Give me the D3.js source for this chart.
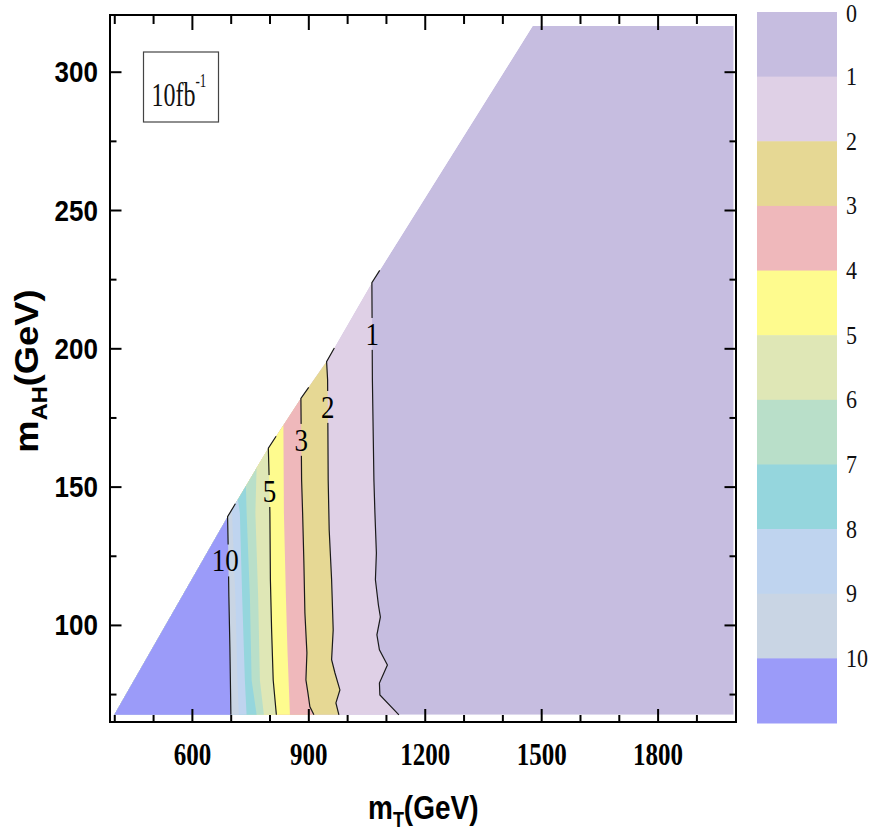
<!DOCTYPE html>
<html>
<head>
<meta charset="utf-8">
<script src="https://cdn.jsdelivr.net/npm/d3@7"></script>
<style>
  html, body { margin: 0; padding: 0; background: #fff; }
  svg { display: block; }
</style>
</head>
<body>
<svg id="chart" width="875" height="832"></svg>
<script>
// ---- contour levels and band colours (band i spans level i .. i+1, last is >10) ----
const levels = [0, 1, 2, 3, 4, 5, 6, 7, 8, 9, 10];
const bandColors = ["#c6bde0", "#dfd0e6", "#e6d894", "#efb8bb", "#fefb8e",
                    "#dfe7b6", "#b9dfc9", "#95d6dd", "#bfd4ef", "#c9d5e4", "#9b9bf9"];
const labelledLevels = [1, 2, 3, 5, 10];
const labelAtAH = [205.2, 178.8, 166.9, 148.4, 123.3];   // m_AH where each contour label sits

// ---- edge of the scanned parameter region (m_T, m_AH) ----
const edgeT  = [400, 692, 797, 881, 947, 1064, 1478];
const edgeAH = [67.5, 139.1, 163.9, 181.9, 195.2, 223.7, 316.5];
const mTMax = 1996, mAHMin = 67.5, mAHMax = 316.5;

// ---- contour lines, bottom to top: m_T values at the listed m_AH values ----
const c1T  = [1133.4, 1084.4, 1083.2, 1103.8, 1083.2, 1076.7, 1085.7, 1080.6, 1072.9, 1075.4, 1071.6, 1069.0, 1065.1, 1063.8, 1084.0];
const c1AH = [67.5, 74.7, 79.0, 85.5, 91.0, 96.4, 102.9, 107.2, 116.3, 126.0, 140.5, 152.4, 188.6, 223.7, 228.2];
const c2T  = [978.8, 971.1, 981.4, 968.5, 960.0, 964.1, 960.0, 953.8, 951.2, 949.7, 947.1, 967.0];
const c2AH = [67.5, 71.8, 76.5, 82.7, 87.4, 98.2, 116.3, 134.3, 152.4, 188.6, 195.2, 200.1];
const c3T  = [914.4, 904.1, 899.0, 893.8, 896.4, 891.2, 888.6, 885.3, 882.7, 880.9, 901.0];
const c3AH = [67.5, 70.4, 75.4, 80.1, 89.9, 104.3, 122.4, 140.5, 152.4, 181.9, 185.9];
const c4T  = [852.6, 846.2, 842.3, 837.1, 835.8];
const c4AH = [67.5, 91.0, 110.1, 140.5, 171.9];
const c5T  = [817.7, 809.5, 805.4, 802.3, 801.0, 799.2, 797.0, 817.0];
const c5AH = [67.5, 80.1, 98.2, 116.3, 140.5, 152.4, 163.9, 168.2];
const c6T  = [785.5, 775.2, 770.8, 763.6, 766.7];
const c6AH = [67.5, 80.1, 110.1, 140.5, 156.6];
const c7T  = [766.8, 753.9, 749.5, 741.0, 739.2];
const c7AH = [67.5, 80.1, 110.1, 140.5, 150.2];
const c8T  = [740.9, 736.5, 729.6, 723.6, 718.5];
const c8AH = [67.5, 80.1, 110.1, 140.5, 145.3];
const c9T  = [721.1, 717.3, 712.1, 708.3, 703.1];
const c9AH = [67.5, 80.1, 110.1, 123.5, 141.7];
const c10T  = [700.5, 697.9, 695.3, 693.5, 692.0, 712.0];
const c10AH = [67.5, 92.2, 110.2, 128.3, 139.1, 143.8];

// ---- axis ticks ----
const xMajor = [600, 900, 1200, 1500, 1800];
const xMinor = [400, 500, 700, 800, 1000, 1100, 1300, 1400, 1600, 1700, 1900];
const yMajor = [100, 150, 200, 250, 300];
const yMinor = [75, 125, 175, 225, 275];

const zip = (a, b) => a.map((v, i) => [v, b[i]]);
const contours = {
  1: zip(c1T, c1AH), 2: zip(c2T, c2AH), 3: zip(c3T, c3AH), 4: zip(c4T, c4AH),
  5: zip(c5T, c5AH), 6: zip(c6T, c6AH), 7: zip(c7T, c7AH), 8: zip(c8T, c8AH),
  9: zip(c9T, c9AH), 10: zip(c10T, c10AH)
};

const svg = d3.select("#chart");
const x = d3.scaleLinear().domain([389, 2002]).range([110, 736]);
const y = d3.scaleLinear().domain([64.9, 320.5]).range([722, 15]);
const line = d3.line().x(d => x(d[0])).y(d => y(d[1]));

const defs = svg.append("defs");
const regionPts = zip(edgeT, edgeAH).concat([[mTMax, mAHMax], [mTMax, mAHMin]]);
defs.append("clipPath").attr("id", "region")
  .append("path").attr("d", line(regionPts) + "Z");

const gFill = svg.append("g").attr("clip-path", "url(#region)");
const gLines = svg.append("g").attr("mask", "url(#labelGaps)");
const gLabels = svg.append("g");
const gAxes = svg.append("g");

// filled bands: whole region in the lowest band, then everything left of each contour
gFill.append("path").attr("d", line(regionPts) + "Z").attr("fill", bandColors[0]);
levels.slice(1).forEach(L => {
  const pts = contours[L];
  const first = pts[0], last = pts[pts.length - 1];
  const poly = [[first[0], mAHMin - 5]].concat(pts,
    [[last[0], mAHMax + 10], [380, mAHMax + 10], [380, mAHMin - 5]]);
  gFill.append("path").attr("d", line(poly) + "Z").attr("fill", bandColors[L]);
});

// contour lines for the labelled levels
labelledLevels.forEach(L => {
  gLines.append("path").attr("d", line(contours[L]))
    .attr("fill", "none").attr("stroke", "#1a1a1a").attr("stroke-width", 1.2);
});

// contour labels, placed on their line
function tAt(pts, ah) {
  for (let i = 0; i < pts.length - 1; i++) {
    const a = pts[i], b = pts[i + 1];
    if ((ah - a[1]) * (ah - b[1]) <= 0 && a[1] !== b[1]) {
      return a[0] + (b[0] - a[0]) * (ah - a[1]) / (b[1] - a[1]);
    }
  }
  return pts[pts.length - 1][0];
}
const labFont = 27, labScale = 1.2, labH = 0.676 * labFont * labScale;
const gaps = [];
labelledLevels.forEach((L, i) => {
  const cx = x(tAt(contours[L], labelAtAH[i])) - (L === 10 ? 3 : 0);
  const cy = y(labelAtAH[i]);
  const t = gLabels.append("text")
    .attr("transform", `translate(${cx},${cy + labH / 2}) scale(1,${labScale})`)
    .attr("text-anchor", "middle")
    .attr("font-family", "'Liberation Serif','Times New Roman',serif")
    .attr("font-size", labFont).attr("fill", "#000").text(L);
  const w = t.node().getComputedTextLength();
  gaps.push({x: cx - w / 2 - 3, y: cy - labH / 2 - 5, w: w + 6, h: labH + 10});
});
const mask = defs.append("mask").attr("id", "labelGaps")
  .attr("maskUnits", "userSpaceOnUse").attr("x", 0).attr("y", 0)
  .attr("width", 875).attr("height", 832);
mask.append("rect").attr("width", 875).attr("height", 832).attr("fill", "#fff");
gaps.forEach(g => mask.append("rect").attr("x", g.x).attr("y", g.y)
  .attr("width", g.w).attr("height", g.h).attr("fill", "#000"));

// ---- axes (ticks point inward) ----
function styleAxis(g) {
  g.select(".domain").remove();
  g.selectAll(".tick line").attr("stroke", "#000").attr("stroke-width", 2);
}
gAxes.append("g").attr("transform", "translate(0,722)")
  .call(d3.axisBottom(x).tickValues(xMinor).tickSize(-7).tickFormat(""))
  .call(styleAxis);
const xb = gAxes.append("g").attr("transform", "translate(0,722)")
  .call(d3.axisBottom(x).tickValues(xMajor).tickSize(-13).tickFormat(d3.format("d")))
  .call(styleAxis);
xb.selectAll(".tick text")
  .attr("y", null).attr("dy", null)
  .attr("transform", "translate(0,43) scale(1,1.28)")
  .attr("font-family", "'Liberation Serif','Times New Roman',serif")
  .attr("font-weight", "bold").attr("font-size", 25).attr("fill", "#000");

gAxes.append("g").attr("transform", "translate(0,15)")
  .call(d3.axisTop(x).tickValues(xMinor).tickSize(-9).tickFormat(""))
  .call(styleAxis);
gAxes.append("g").attr("transform", "translate(0,15)")
  .call(d3.axisTop(x).tickValues(xMajor).tickSize(-15).tickFormat(""))
  .call(styleAxis);

gAxes.append("g").attr("transform", "translate(110,0)")
  .call(d3.axisLeft(y).tickValues(yMinor).tickSize(-6.5).tickFormat(""))
  .call(styleAxis);
const yl = gAxes.append("g").attr("transform", "translate(110,0)")
  .call(d3.axisLeft(y).tickValues(yMajor).tickSize(-11.5).tickFormat(d3.format("d")))
  .call(styleAxis);
yl.selectAll(".tick text")
  .attr("x", null).attr("dy", null)
  .attr("transform", "translate(-12,10) scale(1,1.1)")
  .attr("text-anchor", "end")
  .attr("font-family", "'Liberation Sans',Arial,sans-serif")
  .attr("font-weight", "bold").attr("font-size", 26).attr("fill", "#000");

gAxes.append("g").attr("transform", "translate(736,0)")
  .call(d3.axisRight(y).tickValues(yMinor).tickSize(-6.5).tickFormat(""))
  .call(styleAxis);
gAxes.append("g").attr("transform", "translate(736,0)")
  .call(d3.axisRight(y).tickValues(yMajor).tickSize(-11.5).tickFormat(""))
  .call(styleAxis);

gAxes.append("rect")
  .attr("x", x.range()[0]).attr("y", y.range()[1])
  .attr("width", x.range()[1] - x.range()[0]).attr("height", y.range()[0] - y.range()[1])
  .attr("fill", "none").attr("stroke", "#000").attr("stroke-width", 2);

// ---- axis titles ----
const xTitle = svg.append("text")
  .attr("transform", "translate(368,819) scale(1,1.2)")
  .attr("font-family", "'Liberation Sans',Arial,sans-serif")
  .attr("font-weight", "bold").attr("fill", "#000");
xTitle.append("tspan").attr("font-size", 28).text("m");
xTitle.append("tspan").attr("font-size", 18).attr("dy", 7).text("T");
xTitle.append("tspan").attr("font-size", 28).attr("dy", -7).text("(GeV)");

const yTitle = svg.append("text")
  .attr("transform", "translate(38,371) rotate(-90) scale(1.07,1)")
  .attr("text-anchor", "middle")
  .attr("font-family", "'Liberation Sans',Arial,sans-serif")
  .attr("font-weight", "bold").attr("fill", "#000");
yTitle.append("tspan").attr("font-size", 34).text("m");
yTitle.append("tspan").attr("font-size", 22).attr("dy", 9).text("AH");
yTitle.append("tspan").attr("font-size", 34).attr("dy", -9).text("(GeV)");

// ---- luminosity box ----
svg.append("rect").attr("x", 143.5).attr("y", 52).attr("width", 75).attr("height", 70)
  .attr("fill", "#fff").attr("stroke", "#444").attr("stroke-width", 1.2);
const lum = svg.append("text")
  .attr("transform", "translate(151.5,106) scale(1,1.4)")
  .attr("font-family", "'Liberation Serif','Times New Roman',serif")
  .attr("fill", "#111");
lum.append("tspan").attr("font-size", 24).text("10fb");
lum.append("tspan").attr("font-size", 13).attr("dy", -13.5).text("-1");

// ---- colour bar ----
const ly = d3.scaleLinear().domain([0, levels.length]).range([12, 723]);
const gLegend = svg.append("g");
levels.forEach((L, i) => {
  gLegend.append("rect")
    .attr("x", 757).attr("y", ly(i)).attr("width", 80).attr("height", ly(i + 1) - ly(i) + 0.5)
    .attr("fill", bandColors[i]);
  gLegend.append("text")
    .attr("transform", `translate(846,${ly(i) + (i === 0 ? 9.5 : 8.5)}) scale(1,1.15)`)
    .attr("font-family", "'Liberation Serif','Times New Roman',serif")
    .attr("font-size", 22).attr("fill", "#111").text(L);
});
</script>
</body>
</html>
